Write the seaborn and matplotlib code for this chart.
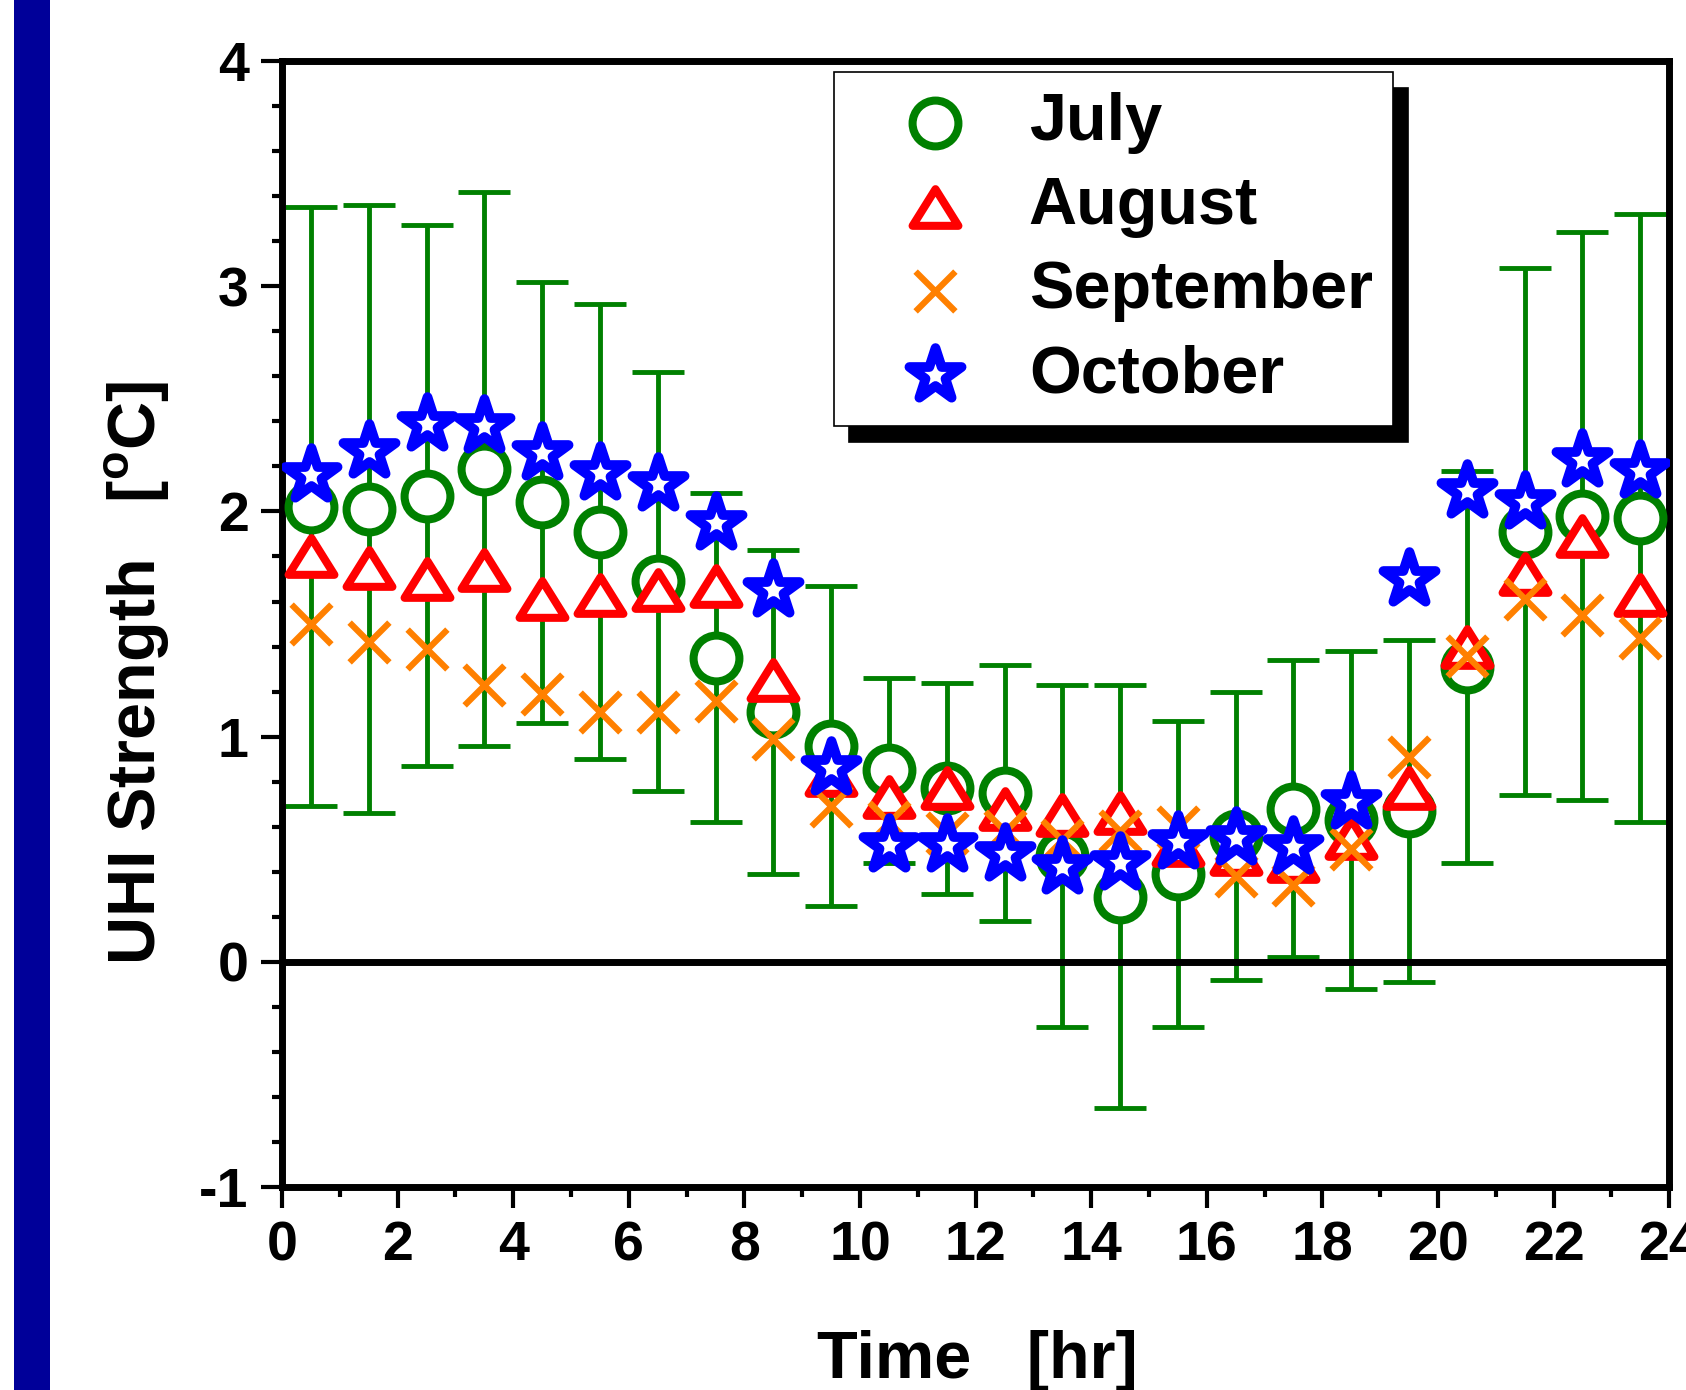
import numpy as np
import pandas as pd
import seaborn as sns
import matplotlib.pyplot as plt
from matplotlib.patches import Rectangle
from matplotlib.path import Path
from matplotlib.ticker import MultipleLocator

# hourly mean UHI strength
hours = [0.5, 1.5, 2.5, 3.5, 4.5, 5.5, 6.5, 7.5, 8.5, 9.5, 10.5, 11.5,
         12.5, 13.5, 14.5, 15.5, 16.5, 17.5, 18.5, 19.5, 20.5, 21.5, 22.5, 23.5]
july_mean = [2.02, 2.01, 2.07, 2.19, 2.04, 1.91, 1.69, 1.35, 1.11, 0.96, 0.85, 0.77,
             0.75, 0.47, 0.29, 0.39, 0.56, 0.68, 0.63, 0.67, 1.31, 1.91, 1.98, 1.97]
july_std = [1.33, 1.35, 1.20, 1.23, 0.98, 1.01, 0.93, 0.73, 0.72, 0.71, 0.41, 0.47,
            0.57, 0.76, 0.94, 0.68, 0.64, 0.66, 0.75, 0.76, 0.87, 1.17, 1.26, 1.35]
august = [1.80, 1.75, 1.70, 1.74, 1.61, 1.63, 1.65, 1.67, 1.25, 0.83, 0.73, 0.77,
          0.68, 0.65, 0.66, 0.52, 0.48, 0.45, 0.55, 0.77, 1.40, 1.72, 1.89, 1.63]
september = [1.50, 1.42, 1.39, 1.23, 1.19, 1.11, 1.11, 1.16, 0.99, 0.69, 0.62, 0.57,
             0.58, 0.54, 0.58, 0.60, 0.38, 0.34, 0.50, 0.91, 1.36, 1.61, 1.54, 1.44]
october = [2.16, 2.27, 2.39, 2.38, 2.26, 2.17, 2.12, 1.95, 1.65, 0.86, 0.52, 0.52,
           0.48, 0.42, 0.44, 0.53, 0.55, 0.51, 0.71, 1.70, 2.09, 2.04, 2.23, 2.18]

df = pd.DataFrame({"hour": hours, "July": july_mean, "August": august,
                   "September": september, "October": october})

sns.set_style("ticks")
plt.rcParams["font.family"] = ["Liberation Sans", "DejaVu Sans"]
plt.rcParams["font.weight"] = "bold"
plt.rcParams["axes.labelweight"] = "bold"
plt.rcParams["axes.unicode_minus"] = False
plt.rcParams["mathtext.fontset"] = "custom"
plt.rcParams["mathtext.rm"] = "Liberation Sans:bold"
plt.rcParams["mathtext.bf"] = "Liberation Sans:bold"
for key in ["text.color", "axes.labelcolor", "xtick.color", "ytick.color", "axes.edgecolor"]:
    plt.rcParams[key] = "black"

fig = plt.figure(figsize=(16.86, 13.90), dpi=100)
fig.patch.set_facecolor("white")
ax = fig.add_axes([0.1673, 0.1460, 0.8227, 0.8101])

# navy strip on the left edge
fig.add_artist(Rectangle((14 / 1686, 0), 36 / 1686, 1, transform=fig.transFigure,
                         facecolor="#000099", edgecolor="none"))

green = "#008000"
ax.errorbar(hours, july_mean, yerr=july_std, fmt="none", ecolor=green,
            elinewidth=3.5, capsize=19, capthick=3.5, zorder=2)
ax.axhline(0, color="black", lw=5, zorder=2.5)

tri = Path([(-1, -0.8), (1, -0.8), (0, 0.8), (-1, -0.8)], closed=True)

sns.scatterplot(data=df, x="hour", y="July", marker="o", s=1089, color=green,
                facecolor="white", edgecolor=green, linewidth=5.8,
                joinstyle="round", label="July", ax=ax, zorder=3)
sns.scatterplot(data=df, x="hour", y="August", marker=tri, s=1089, color="red",
                facecolor="white", edgecolor="red", linewidth=5.8,
                joinstyle="round", label="August", ax=ax, zorder=4)
sns.scatterplot(data=df, x="hour", y="September", marker="x", s=820,
                color="#FF8000", linewidth=4.5, label="September", ax=ax, zorder=5)
sns.scatterplot(data=df, x="hour", y="October", marker="*", s=1560, color="blue",
                facecolor="white", edgecolor="blue", linewidth=7,
                joinstyle="round", label="October", ax=ax, zorder=6)

ax.set_xlim(0, 24)
ax.set_ylim(-1, 4)
ax.xaxis.set_major_locator(MultipleLocator(2))
ax.xaxis.set_minor_locator(MultipleLocator(1))
ax.yaxis.set_major_locator(MultipleLocator(1))
ax.yaxis.set_minor_locator(MultipleLocator(0.2))
ax.tick_params(which="major", direction="out", length=15, width=3,
               labelsize=40, pad=9, top=False, right=False)
ax.tick_params(which="minor", direction="out", length=7, width=3,
               top=False, right=False)
for sp in ax.spines.values():
    sp.set_linewidth(5)
    sp.set_color("black")

ax.set_xlabel("Time   [hr]", fontsize=48)
ax.xaxis.set_label_coords(0.501, -0.127)
ax.set_ylabel("UHI Strength   [$^{\\mathbf{o}}$C]", fontsize=48)
ax.yaxis.set_label_coords(-0.079, 0.457)

leg = ax.legend(loc="upper left", bbox_to_anchor=(0.398, 0.990), borderaxespad=0,
                fontsize=48, handlelength=2.43, handletextpad=0.19, borderpad=0.3,
                labelspacing=0.33, fancybox=False, framealpha=1, edgecolor="black",
                scatterpoints=1,
                shadow={"ox": 11, "oy": -11, "color": "black", "alpha": 1})
leg.get_frame().set_linewidth(1.2)

fig.savefig("out.png", dpi=100)
